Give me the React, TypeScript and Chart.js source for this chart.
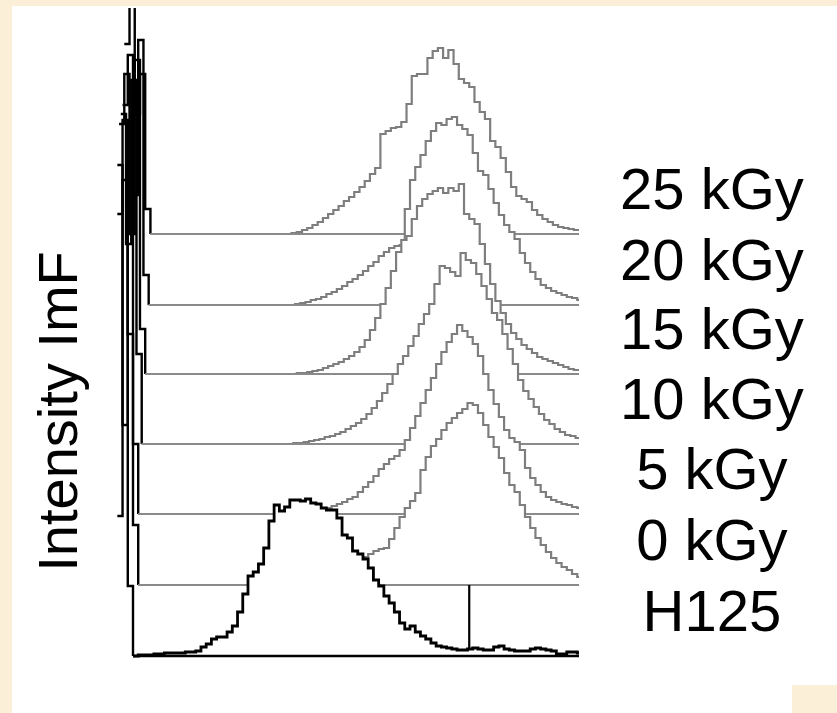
import { useEffect, useRef } from 'react';
import { Chart, registerables } from 'chart.js';

Chart.register(...registerables);

// ---- data ----
const seriesLabels = ['H125', '0 kGy', '5 kGy', '10 kGy', '15 kGy', '20 kGy', '25 kGy'];
const stackOffsets = [0, 71, 142, 212, 282, 351, 422];
const firstChannel = [-9, -9, -9, -7, -8, -6, -5];
const quietBins = [0, 29, 29, 28, 28, 27, 27];
const binWidth = 3;
const channelMin = -9;
const channelMax = 256;
const intensityMax = 648;
const gateChannel = 193;

const spikeH125 = [140, 476, 70];
const spike0kGy = [420, 160, 435, 60];
const spike5kGy = [300, 394, 180, 70];
const spike10kGy = [330, 200, 364, 90];
const spike15kGy = [250, 300, 140, 314, 45];
const spike20kGy = [200, 250, 110, 265, 30];
const spike25kGy = [190, 900, 120, 160, 25];

const countsH125 = [0, 1, 1, 1, 2, 2, 3, 3, 3, 3, 4, 4, 5, 9, 12, 17, 19, 19, 24, 30, 44, 62, 80, 84, 92, 108, 135, 151, 145, 149, 156, 156, 155, 157, 153, 152, 148, 146, 146, 138, 121, 118, 105, 102, 97, 88, 76, 70, 60, 53, 44, 33, 27, 30, 24, 20, 17, 13, 10, 9, 8, 7, 6, 6, 7, 8, 7, 6, 6, 9, 10, 7, 6, 5, 5, 5, 7, 8, 7, 6, 5, 2, 2, 4, 4, 3];
const counts0kGy = [0, 1, 1, 2, 3, 4, 5, 7, 10, 13, 16, 20, 24, 26, 28, 31, 34, 36, 37, 46, 57, 68, 77, 84, 92, 115, 128, 139, 146, 155, 162, 167, 172, 176, 182, 180, 172, 160, 148, 138, 127, 112, 100, 93, 80, 68, 57, 47, 40, 33, 27, 22, 18, 15, 11, 8];
const counts5kGy = [0, 1, 2, 2, 3, 3, 4, 6, 8, 10, 12, 15, 17, 22, 27, 32, 38, 45, 50, 55, 58, 64, 74, 86, 98, 111, 124, 136, 150, 162, 172, 180, 189, 183, 177, 170, 158, 140, 124, 110, 97, 84, 76, 72, 64, 46, 36, 29, 22, 17, 14, 12, 10, 9, 7, 6];
const counts10kGy = [0, 1, 1, 2, 3, 4, 5, 7, 8, 10, 12, 15, 18, 21, 25, 30, 36, 43, 51, 60, 70, 80, 88, 98, 108, 120, 130, 140, 160, 178, 176, 172, 168, 191, 184, 181, 170, 158, 145, 131, 124, 110, 95, 80, 64, 53, 45, 37, 30, 24, 20, 15, 12, 9, 8, 6];
const counts15kGy = [0, 1, 1, 2, 3, 4, 6, 8, 10, 12, 15, 18, 22, 27, 34, 44, 56, 70, 86, 103, 122, 134, 138, 155, 168, 175, 180, 183, 186, 181, 186, 183, 190, 160, 155, 150, 130, 110, 90, 73, 61, 50, 41, 35, 29, 25, 21, 17, 15, 13, 11, 9, 7, 5, 4, 3];
const counts20kGy = [0, 1, 2, 3, 5, 6, 8, 11, 13, 16, 19, 23, 26, 30, 34, 39, 43, 49, 53, 57, 59, 60, 96, 125, 138, 150, 164, 174, 182, 180, 186, 188, 180, 176, 170, 152, 134, 130, 116, 102, 90, 80, 73, 66, 52, 42, 33, 26, 20, 17, 14, 12, 10, 8, 7, 5];
const counts25kGy = [1, 2, 4, 6, 9, 12, 16, 20, 24, 28, 33, 37, 42, 47, 53, 60, 66, 100, 103, 106, 107, 112, 130, 158, 160, 160, 176, 183, 186, 176, 184, 170, 155, 151, 147, 132, 122, 115, 93, 87, 76, 62, 47, 38, 35, 32, 24, 19, 15, 12, 9, 7, 6, 5, 4, 4];

const spikes = [spikeH125, spike0kGy, spike5kGy, spike10kGy, spike15kGy, spike20kGy, spike25kGy];
const peaks = [countsH125, counts0kGy, counts5kGy, counts10kGy, counts15kGy, counts20kGy, counts25kGy];

// ---- style / layout ----
const FONT = "'Liberation Sans', Arial, Helvetica, sans-serif";
const CREAM = '#FBEFD7';
const GREY_LINE = '#7e7e7e';
const BASE_LINE = '#8a8a8a';
const labelLift = 41;
const axisLeftPx = 133;
const axisRightPx = 579;
const pxPerChannel = (axisRightPx - axisLeftPx) / channelMax;

function seriesValues(i: number): number[] {
  const zeros: number[] = new Array(quietBins[i]).fill(0);
  return [...spikes[i], ...zeros, ...peaks[i]];
}

export default function App() {
  const canvasRef = useRef<HTMLCanvasElement | null>(null);

  useEffect(() => {
    const canvas = canvasRef.current;
    if (!canvas) return;

    const clip = { left: 4, top: 0, right: 0, bottom: 4 };
    const datasets: any[] = [];

    // gate marker (top-most)
    const h125 = seriesValues(0);
    const gateIdx = Math.floor((gateChannel - firstChannel[0]) / binWidth);
    datasets.push({
      label: 'gate',
      data: [
        { x: gateChannel, y: h125[gateIdx] + stackOffsets[0] },
        { x: gateChannel, y: stackOffsets[1] },
      ],
      borderColor: '#000',
      borderWidth: 2.2,
      fill: false,
      pointRadius: 0,
      clip,
    });

    // x axis line (channel 0 .. max at zero intensity)
    datasets.push({
      label: 'axis',
      data: [
        { x: 0, y: 0 },
        { x: channelMax, y: 0 },
      ],
      borderColor: '#000',
      borderWidth: 2.6,
      fill: false,
      pointRadius: 0,
      clip,
    });

    for (let i = 0; i < seriesLabels.length; i++) {
      const vals = seriesValues(i);
      const spikeLen = spikes[i].length;
      const pts = vals.map((v, k) => ({ x: firstChannel[i] + k * binWidth, y: v + stackOffsets[i] }));
      pts.push({ x: channelMax, y: vals[vals.length - 1] + stackOffsets[i] });
      const isFront = i === 0;
      const lineColor = isFront ? '#000' : GREY_LINE;
      const lw = isFront ? 2.8 : 2.2;

      if (!isFront) {
        const b0 = firstChannel[i] + spikeLen * binWidth;
        datasets.push({
          label: seriesLabels[i] + ' base',
          data: [
            { x: b0, y: stackOffsets[i] },
            { x: channelMax, y: stackOffsets[i] },
          ],
          borderColor: BASE_LINE,
          borderWidth: 1.8,
          fill: false,
          pointRadius: 0,
          clip,
        });
      }

      datasets.push({
        label: seriesLabels[i],
        data: pts,
        stepped: true,
        borderColor: lineColor,
        backgroundColor: '#ffffff',
        borderWidth: lw,
        fill: 'origin',
        pointRadius: 0,
        clip,
        segment: {
          borderColor: (ctx: any) => (ctx.p0DataIndex < spikeLen ? '#000' : lineColor),
          borderWidth: (ctx: any) => (ctx.p0DataIndex < spikeLen ? 2.4 : lw),
          backgroundColor: (ctx: any) => (ctx.p0DataIndex < spikeLen ? 'rgba(255,255,255,0)' : '#ffffff'),
        },
      });
    }

    const labelTicks = stackOffsets.map((o) => o + labelLift);

    const chart = new Chart(canvas, {
      type: 'line',
      data: { datasets },
      options: {
        animation: false,
        responsive: false,
        maintainAspectRatio: false,
        events: [],
        layout: {
          padding: { left: axisLeftPx + channelMin * pxPerChannel, top: 8, right: 0, bottom: 57 },
        },
        plugins: { legend: { display: false }, tooltip: { enabled: false } },
        elements: { point: { radius: 0, hoverRadius: 0 }, line: { tension: 0, borderJoinStyle: 'miter' } },
        scales: {
          x: {
            type: 'linear',
            min: channelMin,
            max: channelMax,
            display: false,
          },
          y: {
            type: 'linear',
            min: 0,
            max: intensityMax,
            display: false,
          },
          yLabels: {
            type: 'linear',
            axis: 'y',
            position: 'right',
            min: 0,
            max: intensityMax,
            display: true,
            grid: { display: false, drawTicks: false },
            border: { display: false },
            afterBuildTicks: (s: any) => {
              s.ticks = labelTicks.map((v) => ({ value: v }));
            },
            afterFit: (s: any) => {
              s.width = 837 - axisRightPx;
              s.paddingTop = 0;
              s.paddingBottom = 0;
            },
            ticks: {
              autoSkip: false,
              crossAlign: 'center',
              padding: 41,
              color: '#000',
              font: { family: FONT, size: 58 },
              callback: (_v: any, idx: number) => seriesLabels[idx],
            },
          },
        },
      } as any,
    });

    return () => chart.destroy();
  }, []);

  return (
    <div
      style={{
        position: 'absolute',
        left: 0,
        top: 0,
        width: 837,
        height: 713,
        background: CREAM,
        overflow: 'hidden',
      }}
    >
      <div style={{ position: 'absolute', left: 12, top: 6, width: 825, height: 707, background: '#ffffff' }} />
      <div style={{ position: 'absolute', left: 792, top: 685, width: 45, height: 28, background: CREAM }} />
      <div
        style={{
          position: 'absolute',
          left: -143,
          top: 383,
          width: 400,
          height: 57,
          lineHeight: '57px',
          fontSize: 56,
          fontFamily: FONT,
          color: '#000',
          textAlign: 'center',
          whiteSpace: 'nowrap',
          transform: 'rotate(-90deg)',
        }}
      >
        Intensity ImF
      </div>
      <canvas
        ref={canvasRef}
        width={837}
        height={713}
        style={{ position: 'absolute', left: 0, top: 0, width: 837, height: 713 }}
      />
    </div>
  );
}
